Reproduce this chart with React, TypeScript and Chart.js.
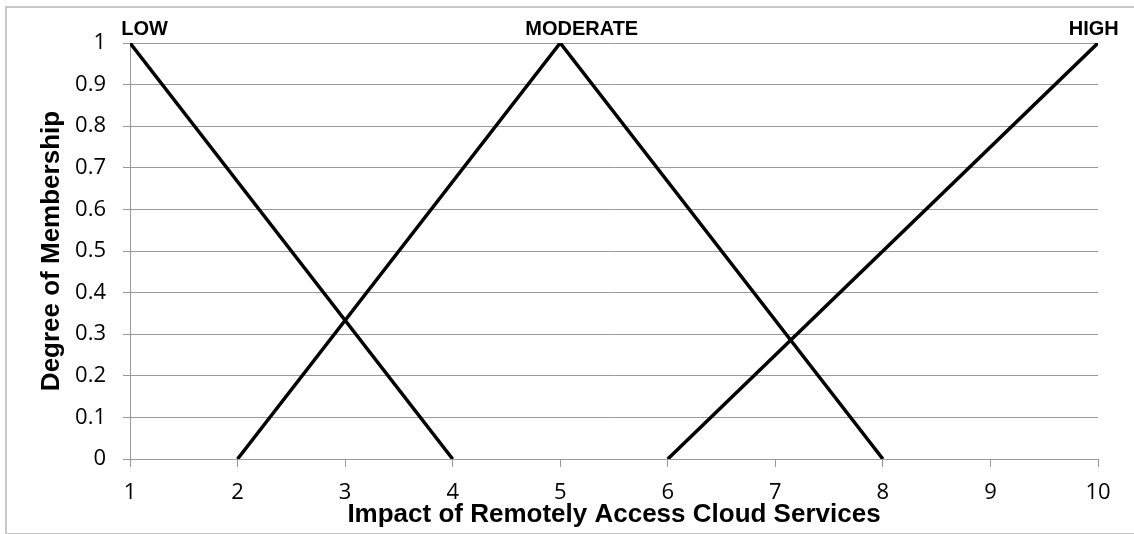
import React, { useEffect, useRef } from "react";
import { Chart, registerables } from "chart.js";

Chart.register(...registerables);

const seriesNames = ["LOW", "MODERATE", "HIGH"];
const lowX = [1, 4];
const lowY = [1, 0];
const moderateX = [2, 5, 8];
const moderateY = [0, 1, 0];
const highX = [6, 10];
const highY = [0, 1];
const labelX = [1.135, 5.2, 9.96];
const labelY = [1, 1, 1];
const xTitle = "Impact of Remotely Access Cloud Services";
const yTitle = "Degree of Membership";

const toPoints = (xs: number[], ys: number[]) => xs.map((x, i) => ({ x, y: ys[i] }));

const seriesLabelPlugin = {
  id: "seriesLabels",
  afterDatasetsDraw(chart: any) {
    const { ctx, scales } = chart;
    ctx.save();
    ctx.font = "bold 20px 'Liberation Sans', Arial, sans-serif";
    ctx.fillStyle = "#000";
    ctx.textAlign = "center";
    ctx.textBaseline = "middle";
    seriesNames.forEach((name, i) => {
      const px = scales.x.getPixelForValue(labelX[i]);
      const py = scales.y.getPixelForValue(labelY[i]) - 14;
      ctx.fillText(name, px, py);
    });
    ctx.restore();
  },
};

export default function App() {
  const ref = useRef<HTMLCanvasElement | null>(null);
  useEffect(() => {
    if (!ref.current) return;
    const lineDs = (label: string, xs: number[], ys: number[]) => ({
      label,
      data: toPoints(xs, ys),
      showLine: true,
      borderColor: "#000",
      backgroundColor: "#000",
      borderWidth: 3.5,
      pointRadius: 0,
      tension: 0,
    });
    const chart = new Chart(ref.current, {
      type: "scatter",
      data: {
        datasets: [
          lineDs(seriesNames[0], lowX, lowY),
          lineDs(seriesNames[1], moderateX, moderateY),
          lineDs(seriesNames[2], highX, highY),
        ],
      },
      options: {
        responsive: false,
        animation: false,
        layout: { padding: { top: 43, right: 36, bottom: 0, left: 0 } },
        plugins: {
          legend: { display: false },
          tooltip: { enabled: false },
        },
        scales: {
          x: {
            type: "linear",
            min: 1,
            max: 10,
            afterFit: (s: any) => {
              s.height = 75;
            },
            ticks: {
              stepSize: 1,
              padding: 13,
              color: "#000",
              font: { family: "'Open Sans', sans-serif", size: 22 },
            },
            grid: {
              drawOnChartArea: false,
              drawTicks: true,
              tickLength: 8,
              color: "#999",
              lineWidth: 1,
            },
            border: { display: true, color: "#999", width: 1 },
            title: {
              display: true,
              text: xTitle,
              color: "#000",
              padding: { top: 0, bottom: 4 },
              font: { family: "'Liberation Sans', Arial, sans-serif", size: 26, weight: "bold" },
            },
          },
          y: {
            type: "linear",
            min: 0,
            max: 1,
            afterFit: (s: any) => {
              s.width = 130;
            },
            ticks: {
              stepSize: 0.1,
              padding: 17,
              color: "#000",
              font: { family: "'Open Sans', sans-serif", size: 22 },
              callback: (v: any) => String(Number(Number(v).toFixed(1))),
            },
            grid: {
              drawOnChartArea: true,
              drawTicks: true,
              tickLength: 7,
              color: "#999",
              lineWidth: 1,
            },
            border: { display: true, color: "#999", width: 1 },
            title: {
              display: true,
              text: yTitle,
              color: "#000",
              padding: { top: 36, bottom: 0 },
              font: { family: "'Liberation Sans', Arial, sans-serif", size: 26, weight: "bold" },
            },
          },
        },
      },
      plugins: [seriesLabelPlugin],
    });
    return () => chart.destroy();
  }, []);

  return (
    <div
      style={{
        position: "absolute",
        left: 0,
        top: 0,
        width: 1134,
        height: 534,
        overflow: "hidden",
        background: "#fff",
      }}
    >
      <div
        style={{
          position: "absolute",
          left: 5,
          top: 6,
          width: 1200,
          height: 525,
          border: "2px solid #c8c8c8",
        }}
      />
      <canvas ref={ref} width={1134} height={534} style={{ position: "absolute", left: 0, top: 0 }} />
    </div>
  );
}
